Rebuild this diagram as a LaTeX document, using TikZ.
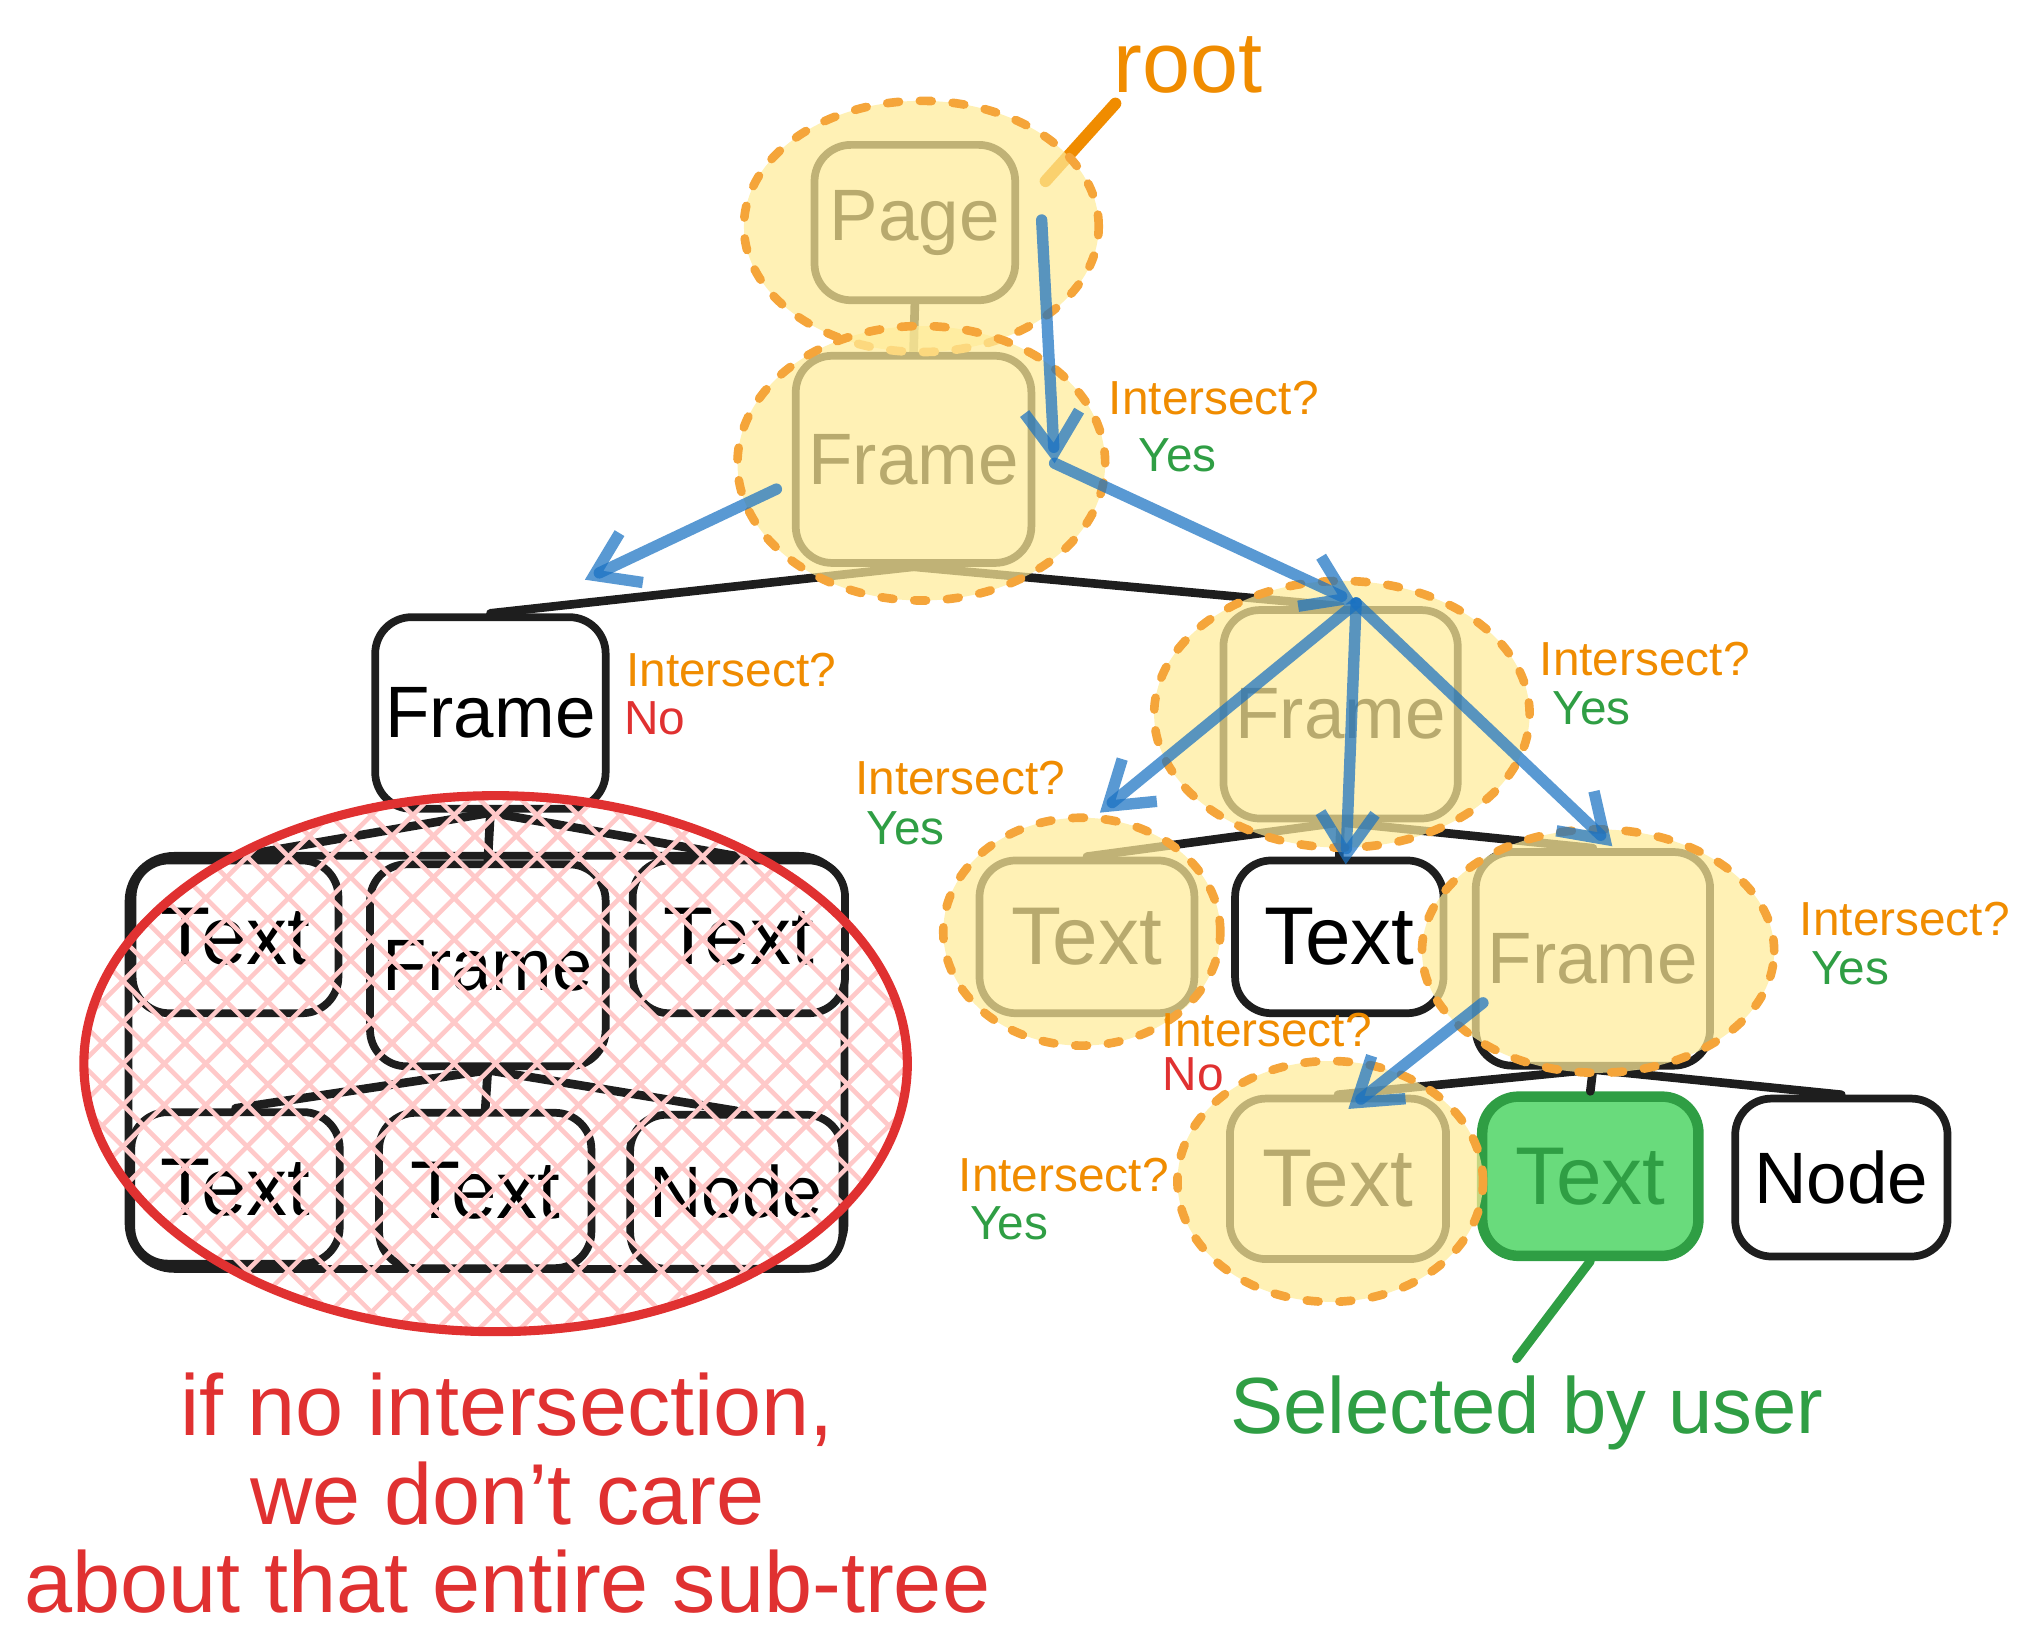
\documentclass[tikz,border=0pt]{standalone}
\usepackage{fontspec}
\setmainfont{Liberation Sans}
\usetikzlibrary{arrows.meta,shapes.geometric}
\definecolor{ink}{HTML}{1E1E1E}
\definecolor{orangeT}{HTML}{F08C00}
\definecolor{hlo}{HTML}{F5A53A}
\definecolor{hly}{HTML}{FFEC99}
\definecolor{flowblue}{HTML}{1971C2}
\definecolor{greenT}{HTML}{2F9E44}
\definecolor{greenF}{HTML}{69DB7C}
\definecolor{redT}{HTML}{E03131}
\definecolor{pinkH}{HTML}{FFC9C9}
\begin{document}
\begin{tikzpicture}[x=0.01cm,y=-0.01cm,
  box/.style={draw=ink,line width=1.7pt,rounded corners=8pt,fill=white,inner sep=0pt,
    font=\fontsize{16}{19}\selectfont},
  tbox/.style={box,font=\fontsize{18}{21}\selectfont},
  hl/.style={ellipse,inner sep=0pt,fill=hly,fill opacity=0.72,draw=hlo,line width=1.9pt,
    dash pattern=on 2.6pt off 4.6pt,line cap=round},
  edge/.style={draw=ink,line width=1.9pt,line cap=round},
  flow/.style={draw=flowblue,draw opacity=0.72,line width=2.5pt,line cap=round,line join=round,
    -{Straight Barb[length=9pt,width=12pt,line width=2.5pt]}},
  hatch/.style={draw=pinkH,line width=1pt},
  qlbl/.style={text=orangeT,font=\fontsize{10.5}{12}\selectfont,inner sep=0pt},
  yes/.style={text=greenT,font=\fontsize{10.5}{12}\selectfont,inner sep=0pt},
  no/.style={text=redT,font=\fontsize{10.5}{12}\selectfont,inner sep=0pt}]
\useasboundingbox (0,0) rectangle (1568,1276);

% root pointer (under the highlight)
\node[text=orangeT,font=\fontsize{19}{22}\selectfont,inner sep=0pt] (rootlbl) at (918,50) {root};
\coordinate (rootA) at (862,80);
\coordinate (rootB) at (808,140);
\draw[draw=orangeT,line width=2.6pt,line cap=round] (rootA) -- (rootB);

% ---------- boxes ----------
\node[box,minimum width=1.55cm,minimum height=1.2cm] (page) at (707,172) {Page};
\node[box,minimum width=1.82cm,minimum height=1.6cm] (frameA) at (706,355) {Frame};
\node[box,minimum width=1.78cm,minimum height=1.48cm] (frameL) at (379,551) {Frame};

% left sub-tree
\node[box,rounded corners=10pt,minimum width=5.53cm,minimum height=3.19cm] (lbig) at (376,821) {};
\node[tbox,minimum width=1.59cm,minimum height=1.18cm] (lt1) at (182,724) {Text};
\node[box,minimum width=1.82cm,minimum height=1.56cm] (lf) at (377,746) {Frame};
\node[tbox,minimum width=1.64cm,minimum height=1.18cm] (lt2) at (571,724) {Text};
\node[tbox,minimum width=1.61cm,minimum height=1.17cm] (lt3) at (182,918) {Text};
\node[tbox,minimum width=1.64cm,minimum height=1.2cm] (lt4) at (375,920) {Text};
\node[box,minimum width=1.64cm,minimum height=1.19cm] (ln) at (569,921) {Node};

% right sub-tree
\node[box,minimum width=1.81cm,minimum height=1.61cm] (frameR) at (1036,552) {Frame};
\node[tbox,minimum width=1.66cm,minimum height=1.18cm] (t3a) at (840,724) {Text};
\node[tbox,minimum width=1.61cm,minimum height=1.18cm] (t3b) at (1035,724) {Text};
\node[box,minimum width=1.81cm,minimum height=1.65cm] (f3) at (1231,741) {Frame};
\node[tbox,minimum width=1.67cm,minimum height=1.24cm] (t4a) at (1034,911) {Text};
\node[tbox,minimum width=1.67cm,minimum height=1.23cm,fill=greenF,draw=greenT,text=greenT,line width=2.3pt] (t4b) at (1229,909) {Text};
\node[box,minimum width=1.64cm,minimum height=1.22cm] (n4) at (1423,910) {Node};

% ---------- tree edges ----------
\draw[edge] (page.south) -- (frameA.north);
\draw[edge] (frameA.south) -- (frameL.north);
\draw[edge] (frameA.south) -- (frameR.north);
\draw[edge] (frameL.south) -- (lt1.north);
\draw[edge] (frameL.south) -- (lf.north);
\draw[edge] (frameL.south) -- (lt2.north);
\draw[edge] (lf.south) -- (lt3.north);
\draw[edge] (lf.south) -- (lt4.north);
\draw[edge] (lf.south) -- (ln.north);
\draw[edge] (frameR.south) -- (t3a.north);
\draw[edge] (frameR.south) -- (t3b.north);
\draw[edge] (frameR.south) -- (f3.north);
\draw[edge] (f3.south) -- (t4a.north);
\draw[edge] (f3.south) -- (t4b.north);
\draw[edge] (f3.south) -- (n4.north);

% ---------- highlights ----------
\node[hl,minimum width=2.74cm,minimum height=1.94cm] (ePage) at (712,175) {};
\node[hl,minimum width=2.84cm,minimum height=2.12cm] (eFrameA) at (712,358) {};
\node[hl,minimum width=2.9cm,minimum height=2.06cm] (eFrameR) at (1037,552) {};
\node[hl,minimum width=2.14cm,minimum height=1.76cm] (eT3a) at (836,720) {};
\node[hl,minimum width=2.72cm,minimum height=1.88cm] (eF3) at (1235,735) {};
\node[hl,minimum width=2.36cm,minimum height=1.86cm] (eT4a) at (1028,913) {};

% ---------- ignored sub-tree ----------
\begin{scope}
  \clip (383,822) ellipse [x radius=3.2cm, y radius=2.09cm];
  \foreach \k in {-24,...,24} {
    \draw[hatch] (383+\k*32-420,402) -- (383+\k*32+420,1242);
    \draw[hatch] (383+\k*32+420,402) -- (383+\k*32-420,1242);
  }
\end{scope}
\node[ellipse,draw=redT,line width=2pt,inner sep=0pt,minimum width=6.36cm,minimum height=4.14cm] (ered) at (383,822) {};

% ---------- traversal arrows ----------
\coordinate (p1) at (805,170);
\coordinate (p2) at (815,358);
\coordinate (p3) at (1048,466);
\coordinate (p4) at (600,378);
\coordinate (p5) at (452,448);
\coordinate (p6) at (850,628);
\coordinate (p7) at (1040,668);
\coordinate (p8) at (1246,654);
\coordinate (p9) at (1146,775);
\coordinate (p10) at (1042,857);
\draw[flow] (p1) -- (p2);
\draw[flow] (p2) -- (p3);
\draw[flow] (p4) -- (p5);
\draw[flow] (p3) -- (p6);
\draw[flow] (p3) -- (p7);
\draw[flow] (p3) -- (p8);
\draw[flow] (p9) -- (p10);

% ---------- selected pointer ----------
\coordinate (selTip) at (1172,1050);
\draw[draw=greenT,line width=2pt,line cap=round] (t4b.south) -- (selTip);
\node[text=greenT,font=\fontsize{17.5}{20}\selectfont,inner sep=0pt] (sel) at (1180,1092) {Selected by user};

% ---------- labels ----------
\node[qlbl] (q1) at (938,308) {Intersect?};
\node[yes] (a1) at (910,352) {Yes};
\node[qlbl] (q2) at (565,518) {Intersect?};
\node[no] (a2) at (506,555) {No};
\node[qlbl] (q3) at (1271,509) {Intersect?};
\node[yes] (a3) at (1230,547) {Yes};
\node[qlbl] (q4) at (742,601) {Intersect?};
\node[yes] (a4) at (700,640) {Yes};
\node[qlbl] (q5) at (979,796) {Intersect?};
\node[no] (a5) at (922,830) {No};
\node[qlbl] (q6) at (1472,710) {Intersect?};
\node[yes] (a6) at (1430,748) {Yes};
\node[qlbl] (q7) at (822,908) {Intersect?};
\node[yes] (a7) at (780,945) {Yes};

\node[text=redT,align=center,font=\fontsize{19}{19.4}\selectfont,inner sep=0pt] (note) at (392,1154)
  {if no intersection,\\we don’t care\\about that entire sub-tree};
\end{tikzpicture}
\end{document}
